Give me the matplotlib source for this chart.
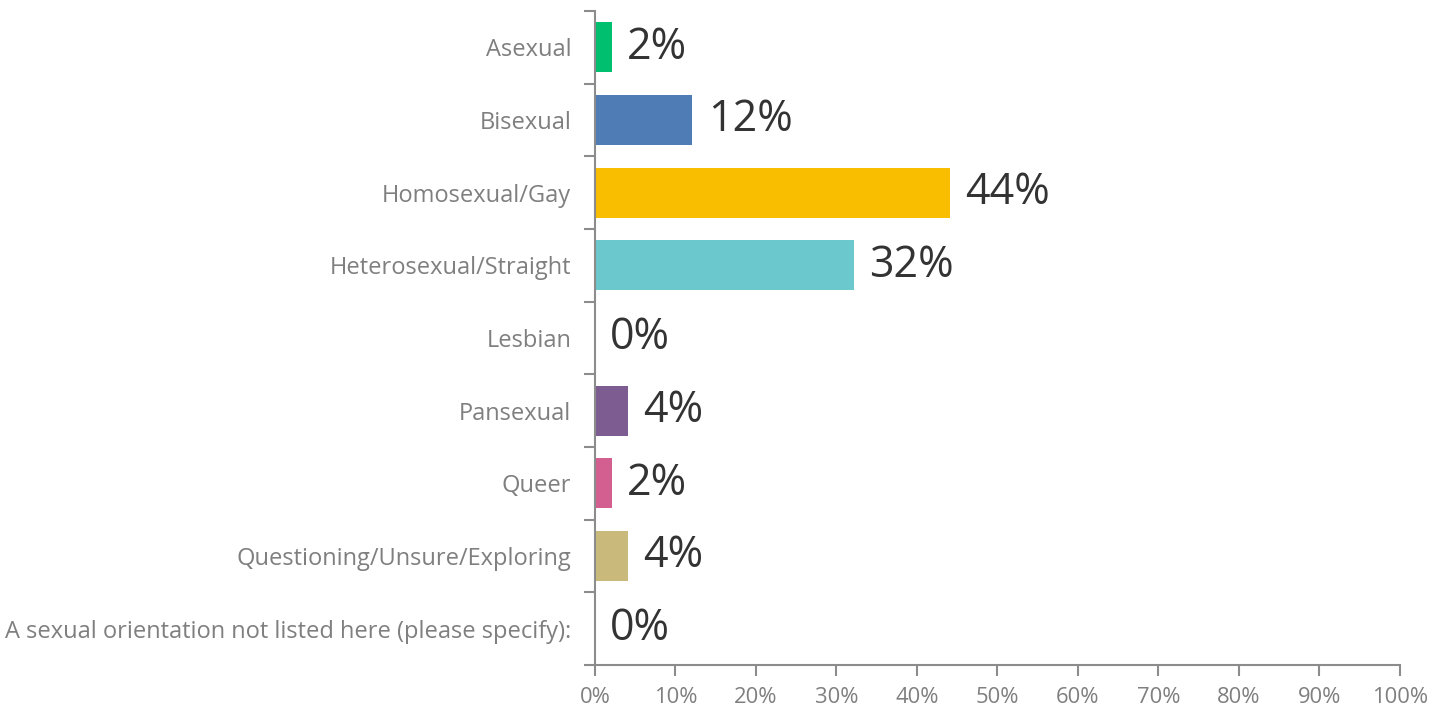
import matplotlib.pyplot as plt
from matplotlib.ticker import MultipleLocator, FuncFormatter, FixedLocator

# Data
categories = ['Asexual', 'Bisexual', 'Homosexual/Gay', 'Heterosexual/Straight', 'Lesbian',
              'Pansexual', 'Queer', 'Questioning/Unsure/Exploring',
              'A sexual orientation not listed here (please specify):']
values = [2.1, 12.1, 44.1, 32.2, 0.0, 4.1, 2.1, 4.1, 0.0]
labels = ['2%', '12%', '44%', '32%', '0%', '4%', '2%', '4%', '0%']
colors = ['#00BF6F', '#507CB6', '#F9BE00', '#6BC8CD', '#9D9D9D',
          '#7D5D91', '#D25F90', '#C9B97A', '#9D9D9D']

plt.rcParams['font.family'] = ['Open Sans', 'DejaVu Sans']
gray = '#8C8C8C'

fig = plt.figure(figsize=(14.35, 7.09), dpi=100)
ax = fig.add_axes([0.4146, 0.062, 0.561, 0.9225])

y = list(range(len(categories)))
ax.barh(y, values, height=0.69, color=colors)

for yi, v, lab in zip(y, values, labels):
    ax.text(v + 1.9, yi, lab, va='center', ha='left', fontsize=31, color='#333333')

ax.set_ylim(len(categories) - 0.5, -0.5)
ax.set_xlim(0, 100)

ax.set_yticks(y)
ax.set_yticklabels(categories, fontsize=17, color='#7F7F7F')
ax.tick_params(axis='y', which='major', length=0, pad=17)
ax.yaxis.set_minor_locator(FixedLocator([i - 0.5 for i in range(len(categories) + 1)]))
ax.tick_params(axis='y', which='minor', length=8, width=1.5, color=gray)

ax.xaxis.set_major_locator(MultipleLocator(10))
ax.xaxis.set_major_formatter(FuncFormatter(lambda x, p: f'{int(x)}%'))
ax.tick_params(axis='x', length=8, width=1.5, color=gray, labelsize=15.8,
               labelcolor='#7F7F7F', pad=8)

for s in ['top', 'right']:
    ax.spines[s].set_visible(False)
for s in ['left', 'bottom']:
    ax.spines[s].set_color(gray)
    ax.spines[s].set_linewidth(1.5)

fig.savefig('out.png', dpi=100)
